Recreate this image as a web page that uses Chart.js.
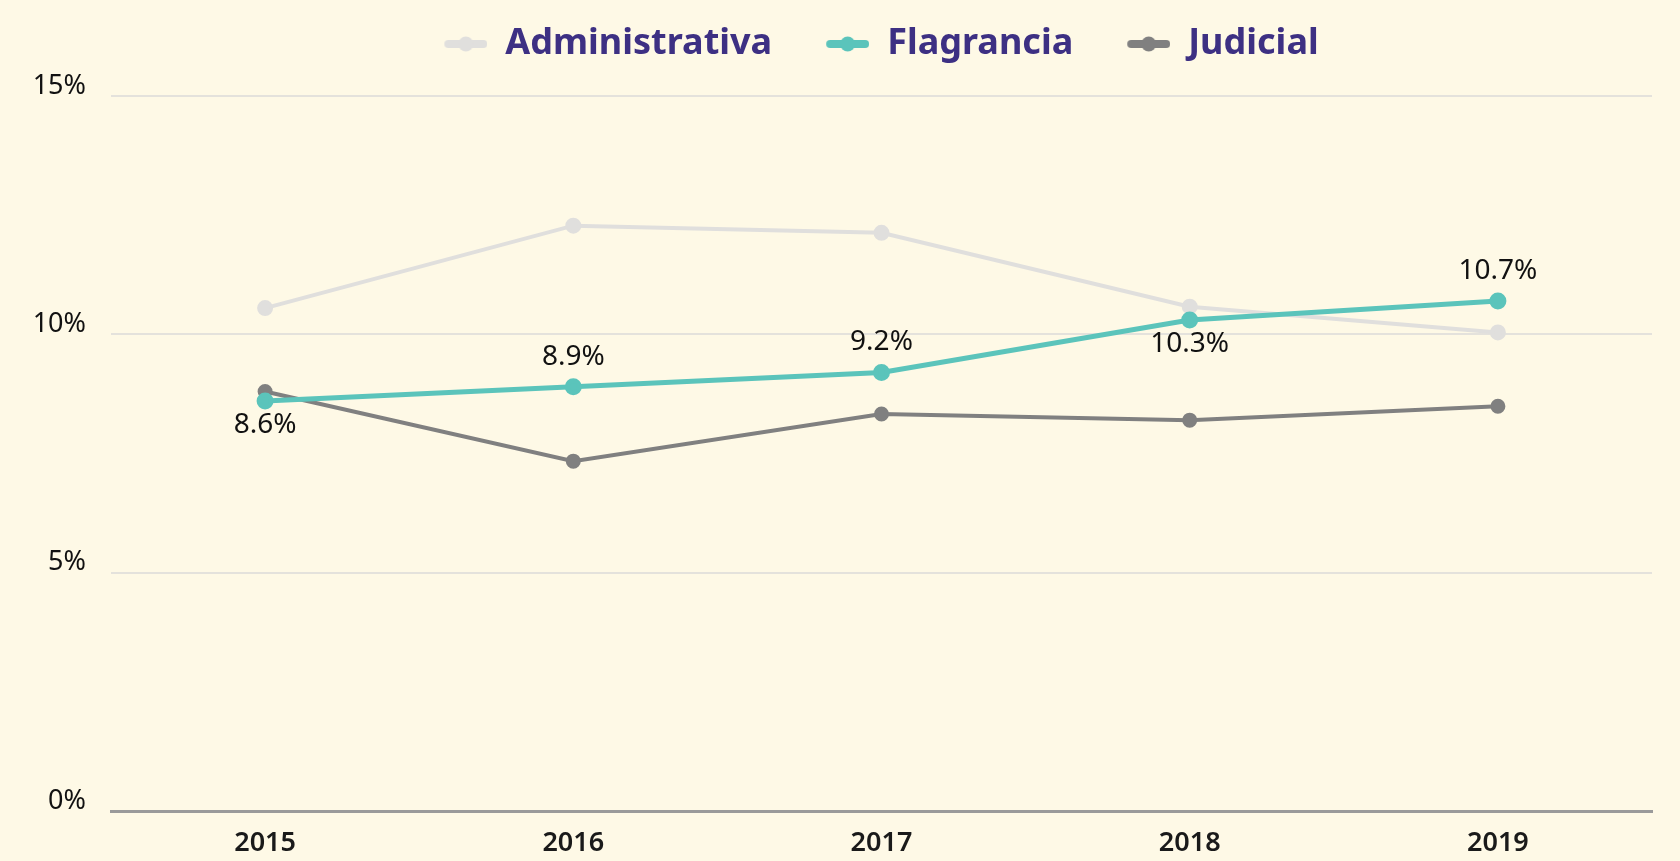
<!DOCTYPE html>
<html>
<head>
<meta charset="utf-8">
<script src="https://cdn.jsdelivr.net/npm/chart.js@4.4.1/dist/chart.umd.min.js"></script>
<style>
  html, body { margin: 0; padding: 0; background: #fef9e6; }
  #wrap { width: 1680px; height: 861px; position: relative; }
</style>
</head>
<body>
<div id="wrap"><canvas id="c" width="1680" height="861"></canvas></div>
<script>
const categories = ['2015', '2016', '2017', '2018', '2019'];
const administrativa = [10.55, 12.28, 12.13, 10.58, 10.04];
const flagrancia = [8.6, 8.9, 9.2, 10.3, 10.7];
const judicial = [8.8, 7.34, 8.33, 8.2, 8.49];
const yTickLabels = ['0%', '5%', '10%', '15%'];

const seriesNames = ['Administrativa', 'Flagrancia', 'Judicial'];
const seriesColors = ['#e0dfdd', '#5bc4bb', '#808080'];
const flagLabelSide = ['below', 'above', 'above', 'below', 'above'];

// legend marker: transparent lead-in (item spacing) + line with dot
const markerLead = 34;
const markerWidth = 43;
function legendMarker(color) {
  const w = markerLead + markerWidth, h = 16;
  const cv = document.createElement('canvas');
  cv.width = w; cv.height = h;
  const ctx = cv.getContext('2d');
  ctx.strokeStyle = color;
  ctx.lineWidth = 8;
  ctx.lineCap = 'round';
  ctx.beginPath();
  ctx.moveTo(markerLead + 4, h / 2);
  ctx.lineTo(w - 4, h / 2);
  ctx.stroke();
  ctx.fillStyle = color;
  ctx.beginPath();
  ctx.arc(markerLead + markerWidth / 2, h / 2, 7.5, 0, Math.PI * 2);
  ctx.fill();
  return cv;
}

const flagLabelsPlugin = {
  id: 'flagLabels',
  afterLayout(chart) {
    // center the legend row over the plot area (compensating the marker lead-in)
    const lg = chart.legend;
    if (lg) {
      lg.left = chart.chartArea.left - markerLead;
      lg.right = chart.chartArea.right;
      lg.width = lg.right - lg.left;
    }
  },
  afterDatasetsDraw(chart) {
    const meta = chart.getDatasetMeta(1);
    const ctx = chart.ctx;
    ctx.save();
    ctx.font = '28px "Noto Sans"';
    ctx.fillStyle = '#111';
    ctx.textAlign = 'center';
    ctx.textBaseline = 'middle';
    meta.data.forEach((pt, i) => {
      const v = chart.data.datasets[1].data[i];
      const dy = flagLabelSide[i] === 'above' ? -30 : 24;
      ctx.fillText(v.toFixed(1) + '%', pt.x, pt.y + dy);
    });
    ctx.restore();
  }
};

const data = {
  labels: categories,
  datasets: [
    { label: seriesNames[0], data: administrativa, borderColor: seriesColors[0], backgroundColor: seriesColors[0], borderWidth: 4, pointRadius: 6, order: 2 },
    { label: seriesNames[1], data: flagrancia, borderColor: seriesColors[1], backgroundColor: seriesColors[1], borderWidth: 5, pointRadius: 6, order: 0 },
    { label: seriesNames[2], data: judicial, borderColor: seriesColors[2], backgroundColor: seriesColors[2], borderWidth: 4, pointRadius: 5.5, order: 1 }
  ]
};

const markers = seriesColors.map(legendMarker);

new Chart(document.getElementById('c'), {
  type: 'line',
  data,
  plugins: [flagLabelsPlugin],
  options: {
    responsive: false,
    animation: false,
    events: [],
    layout: { padding: { top: 6, left: 0, right: 28, bottom: 0 } },
    elements: { line: { tension: 0 }, point: { pointStyle: 'circle', borderWidth: 0 } },
    plugins: {
      tooltip: { enabled: false },
      title: {
        display: true,
        text: '',
        position: 'top',
        weight: 500,
        padding: 0,
        font: { size: 24, lineHeight: 1 }
      },
      legend: {
        position: 'top',
        align: 'center',
        labels: {
          usePointStyle: true,
          pointStyleWidth: markerLead + markerWidth,
          padding: 20,
          color: '#3d3083',
          font: { family: '"Noto Sans"', size: 36, weight: 'bold' },
          generateLabels(chart) {
            return chart.data.datasets.map((ds, i) => ({
              text: ds.label,
              fillStyle: seriesColors[i],
              strokeStyle: seriesColors[i],
              lineWidth: 0,
              pointStyle: markers[i],
              hidden: false,
              datasetIndex: i,
              fontColor: '#3d3083'
            }));
          }
        }
      }
    },
    scales: {
      x: {
        type: 'category',
        offset: true,
        grid: { display: true, color: 'transparent', drawTicks: false },
        border: { display: true, color: '#9a9a9a', width: 3 },
        ticks: { color: '#1a1a1a', padding: 16, font: { family: '"Noto Sans"', size: 27, weight: 600 } },
        afterFit(scale) { scale.height = 50; }
      },
      y: {
        min: 0,
        max: 15,
        grid: { color: '#e4e2dc', lineWidth: 2, drawTicks: false },
        border: { display: false },
        ticks: {
          stepSize: 5,
          color: '#111',
          padding: 25,
          labelOffset: -10,
          font: { family: '"Noto Sans"', size: 27 },
          callback: (v, i) => yTickLabels[i]
        },
        afterFit(scale) { scale.width = 111; }
      }
    }
  }
});
</script>
</body>
</html>
